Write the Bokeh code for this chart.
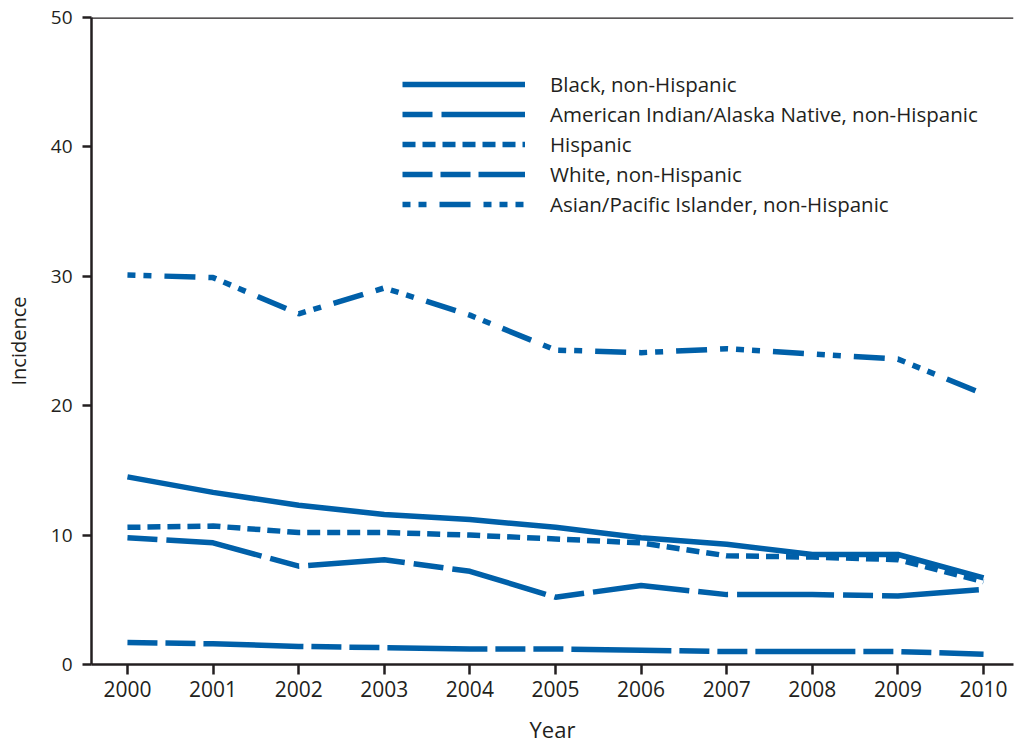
from bokeh.plotting import figure
from bokeh.models import Range1d, FixedTicker, Legend, LegendItem, Span
from bokeh.embed import file_html
from bokeh.resources import INLINE

years = [2000, 2001, 2002, 2003, 2004, 2005, 2006, 2007, 2008, 2009, 2010]
black = [14.5, 13.3, 12.3, 11.6, 11.2, 10.6, 9.8, 9.3, 8.5, 8.5, 6.7]
aian = [9.8, 9.4, 7.6, 8.1, 7.2, 5.2, 6.1, 5.4, 5.4, 5.3, 5.8]
hispanic = [10.6, 10.7, 10.2, 10.2, 10.0, 9.7, 9.4, 8.4, 8.3, 8.1, 6.4]
white = [1.7, 1.6, 1.4, 1.3, 1.2, 1.2, 1.1, 1.0, 1.0, 1.0, 0.8]
asian = [30.1, 29.9, 27.1, 29.1, 27.0, 24.3, 24.1, 24.4, 24.0, 23.6, 20.9]
y_ticks = [0, 10, 20, 30, 40, 50]

series = [
    ("Black, non-Hispanic", black, "solid"),
    ("American Indian/Alaska Native, non-Hispanic", aian, "30 9 97 9"),
    ("Hispanic", hispanic, "13 7"),
    ("White, non-Hispanic", white, "30 8 30 8 100 8"),
    ("Asian/Pacific Islander, non-Hispanic", asian, "8 8 8 13 31 13 8 8 8 8 8 13 31 13"),
]

BLUE = "#0060a9"
DARK = "#231f20"
FONT = "Open Sans"

p = figure(width=1014, height=746, output_backend="svg", toolbar_location=None,
           x_range=Range1d(1999.58, 2010.35), y_range=Range1d(0, 50),
           min_border_left=91, min_border_right=1, min_border_top=17, min_border_bottom=82)

p.grid.visible = False
p.outline_line_color = None
p.background_fill_color = "white"

items = []
for name, vals, dash in series:
    r = p.line(years, vals, line_color=BLUE, line_width=5.5, line_dash=dash)
    items.append(LegendItem(label=name, renderers=[r]))

top = Span(location=50, dimension="width", line_color=DARK, line_width=2.5)
p.add_layout(top)

for ax in (p.xaxis[0], p.yaxis[0]):
    ax.axis_line_color = DARK
    ax.axis_line_width = 2.5
    ax.major_tick_line_color = DARK
    ax.major_tick_line_width = 2.5
    ax.major_tick_in = 0
    ax.minor_tick_line_color = None
    ax.major_label_text_font = FONT
    ax.major_label_text_color = DARK
    ax.axis_label_text_font = FONT
    ax.axis_label_text_font_style = "normal"
    ax.axis_label_text_color = DARK

p.xaxis.ticker = FixedTicker(ticks=years)
p.xaxis.major_tick_out = 10
p.xaxis.major_label_standoff = 6
p.xaxis.major_label_text_font_size = "21px"
p.xaxis.axis_label = "Year"
p.xaxis.axis_label_text_font_size = "22px"
p.xaxis.axis_label_standoff = 14

p.yaxis.ticker = FixedTicker(ticks=y_ticks)
p.yaxis.major_tick_out = 9
p.yaxis.major_label_standoff = 10
p.yaxis.major_label_text_font_size = "19px"
p.yaxis.axis_label = "Incidence"
p.yaxis.axis_label_text_font_size = "20px"
p.yaxis.axis_label_standoff = 16

legend = Legend(items=items, location=(311, 446), glyph_width=123, glyph_height=20,
                label_height=20, spacing=2, label_standoff=25, padding=0, margin=0,
                border_line_color=None, background_fill_alpha=0,
                label_text_font=FONT, label_text_font_size="20.5px", label_text_color=DARK)
p.add_layout(legend, "center")

open("out.html", "w").write(file_html(p, INLINE))
